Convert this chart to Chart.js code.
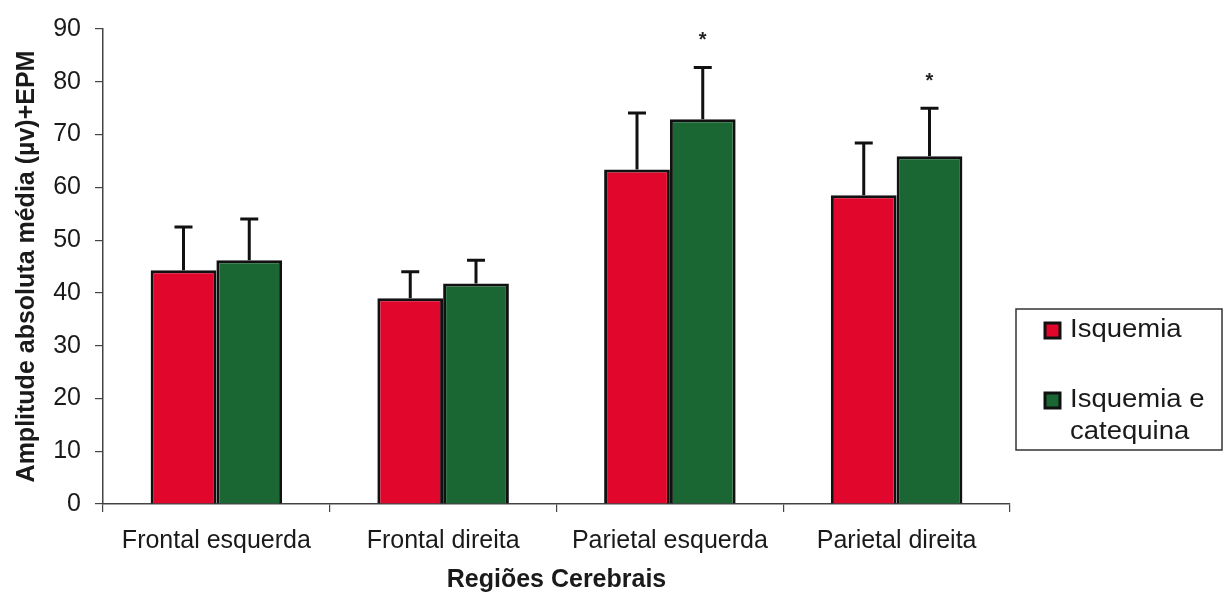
<!DOCTYPE html>
<html>
<head>
<meta charset="utf-8">
<script src="https://cdn.jsdelivr.net/npm/chart.js@4/dist/chart.umd.min.js"></script>
<style>
  html, body { margin: 0; padding: 0; background: #fff; }
  #wrap { width: 1227px; height: 597px; }
</style>
</head>
<body>
<div id="wrap"><canvas id="grafico" width="1227" height="597"></canvas></div>
<script>
// valores
var regioes = ['Frontal esquerda', 'Frontal direita', 'Parietal esquerda', 'Parietal direita'];
var isquemia = [44.3, 39.0, 63.4, 58.5];
var isquemiaEpm = [8.2, 5.0, 10.7, 9.9];
var catequina = [46.2, 41.8, 72.9, 65.9];
var catequinaEpm = [7.8, 4.4, 9.8, 9.1];
var significativo = [false, false, true, true];
var yTicks = [0, 10, 20, 30, 40, 50, 60, 70, 80, 90];

var fonte = '"Liberation Sans", Arial, sans-serif';
var corTexto = '#1a1a1a';
var vermelho = '#e0062c';
var verde = '#1b6734';

var erros = [isquemiaEpm, catequinaEpm];

var errorBars = {
    id: 'errorBars',
    afterDatasetsDraw: function (chart) {
        var ctx = chart.ctx;
        var y = chart.scales.y;
        ctx.save();
        ctx.strokeStyle = '#111';
        ctx.lineWidth = 3;
        chart.data.datasets.forEach(function (ds, i) {
            var meta = chart.getDatasetMeta(i);
            meta.data.forEach(function (bar, j) {
                var topo = y.getPixelForValue(ds.data[j] + erros[i][j]);
                ctx.beginPath();
                ctx.moveTo(bar.x, bar.y);
                ctx.lineTo(bar.x, topo);
                ctx.moveTo(bar.x - 9, topo);
                ctx.lineTo(bar.x + 9, topo);
                ctx.stroke();
                if (i == 1 && significativo[j]) {
                    ctx.fillStyle = '#222';
                    ctx.font = 'bold 20px ' + fonte;
                    ctx.textAlign = 'center';
                    ctx.textBaseline = 'middle';
                    ctx.fillText('*', bar.x, topo - 27);
                }
            });
        });
        ctx.restore();
    }
};

var legenda = {
    id: 'legenda',
    afterDraw: function (chart) {
        var ctx = chart.ctx;
        ctx.save();
        ctx.strokeStyle = '#333';
        ctx.lineWidth = 1.5;
        ctx.strokeRect(1016, 309, 206, 141);
        var linhas = [['Isquemia'], ['Isquemia e', 'catequina']];
        var ys = [330, 400];
        chart.data.datasets.forEach(function (ds, i) {
            ctx.fillStyle = ds.backgroundColor;
            ctx.fillRect(1045, ys[i] - 7, 15, 15);
            ctx.strokeStyle = '#111';
            ctx.lineWidth = 3;
            ctx.strokeRect(1045, ys[i] - 7, 15, 15);
            ctx.fillStyle = corTexto;
            linhas[i].forEach(function (t, k) {
                ctx.save();
                ctx.translate(1070, ys[i] + k * 32);
                ctx.scale(1.1, 1);
                ctx.font = '25px ' + fonte;
                ctx.textBaseline = 'middle';
                ctx.textAlign = 'left';
                ctx.fillText(t, 0, 0);
                ctx.restore();
            });
        });
        ctx.restore();
    }
};

new Chart(document.getElementById('grafico'), {
    type: 'bar',
    data: {
        labels: regioes,
        datasets: [
            { label: 'Isquemia', data: isquemia, backgroundColor: vermelho, borderColor: '#111', borderWidth: 3 },
            { label: 'Isquemia e catequina', data: catequina, backgroundColor: verde, borderColor: '#111', borderWidth: 3 }
        ]
    },
    options: {
        responsive: false,
        animation: false,
        categoryPercentage: 0.58,
        barPercentage: 1.0,
        layout: { padding: { top: 29, right: 217, left: 0, bottom: 0 } },
        plugins: {
            legend: { display: false },
            tooltip: { enabled: false }
        },
        scales: {
            x: {
                grid: { display: true, drawOnChartArea: false, offset: true, tickLength: 8, color: '#444', lineWidth: 1.2 },
                border: { color: '#444', width: 1.5 },
                ticks: { color: corTexto, font: { family: fonte, size: 25 }, padding: 14, maxRotation: 0 },
                title: { display: true, text: 'Regiões Cerebrais', color: corTexto, font: { family: fonte, size: 25, weight: 'bold' }, padding: { top: 0, bottom: 2 } },
                afterFit: function (s) { s.height = 93; }
            },
            y: {
                min: 0,
                max: 90,
                afterBuildTicks: function (s) { s.ticks = yTicks.map(function (v) { return { value: v }; }); },
                grid: { display: true, drawOnChartArea: false, tickLength: 8, color: '#444', lineWidth: 1.2 },
                border: { color: '#444', width: 1.5 },
                ticks: { color: corTexto, font: { family: fonte, size: 25 }, padding: 14 },
                title: { display: true, text: 'Amplitude absoluta média (µv)+EPM', color: corTexto, font: { family: fonte, size: 25, weight: 'bold' }, padding: { top: 12, bottom: 0 } },
                afterFit: function (s) { s.width = 103; }
            }
        }
    },
    plugins: [errorBars, legenda]
});
</script>
</body>
</html>
